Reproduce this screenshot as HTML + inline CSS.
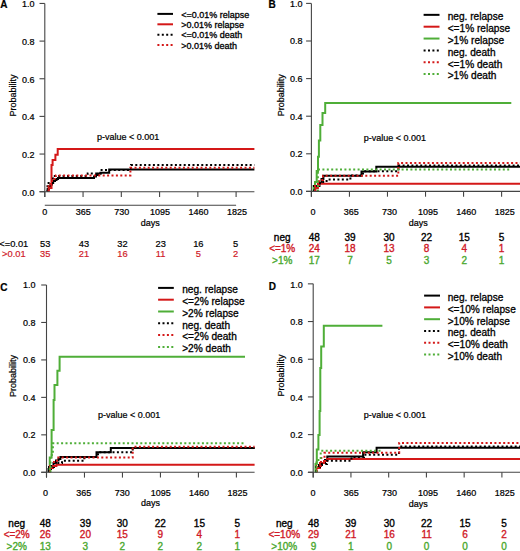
<!DOCTYPE html><html><head><meta charset="utf-8"><style>html,body{margin:0;padding:0;background:#fff;width:520px;height:551px;overflow:hidden}svg{display:block}text{font-family:"Liberation Sans", sans-serif;stroke-width:0.22px;stroke:#000}</style></head><body>
<svg width="520" height="551" viewBox="0 0 520 551">
<rect width="520" height="551" fill="#fff"/>
<g><path d="M47.6,191.7 V189 H49 V186.5 H50.5 V184.5 H52 V183 H53.2 V181 H55 V180 H56.5 V179 H58 V178 H94 V176.5 H96 V175 H98 V173.5 H100.5 V172.8 H109.2 V169.5 H254.4" fill="none" stroke="#000" stroke-width="2" stroke-linejoin="miter"/><path d="M48.8,191.7 V188 H51.5 V165 H52.6 V160 H55.4 V154.8 H57.7 V149 H254.4" fill="none" stroke="#d41818" stroke-width="2" stroke-linejoin="miter"/><path d="M47.5,191.7 V183 H53 V176 H87.7 V173.4 H100.6 V170 H131 V165.1 H254.4" fill="none" stroke="#000" stroke-width="2" stroke-dasharray="2 2.4" stroke-linejoin="miter"/><path d="M48.5,191.7 V184 H52 V179 H55.9 V175.5 H130.4 V167.7 H254.4" fill="none" stroke="#d41818" stroke-width="2" stroke-dasharray="2 2.4" stroke-linejoin="miter"/><path d="M44.8,3.45 V197" stroke="#454545" stroke-width="1.1" fill="none"/><path d="M39.5,191.7 H44.8" stroke="#454545" stroke-width="1.1"/><text x="34.4" y="195.5" font-size="9" text-anchor="end">0.0</text><path d="M39.5,154.05 H44.8" stroke="#454545" stroke-width="1.1"/><text x="34.4" y="157.85" font-size="9" text-anchor="end">0.2</text><path d="M39.5,116.4 H44.8" stroke="#454545" stroke-width="1.1"/><text x="34.4" y="120.2" font-size="9" text-anchor="end">0.4</text><path d="M39.5,78.75 H44.8" stroke="#454545" stroke-width="1.1"/><text x="34.4" y="82.55" font-size="9" text-anchor="end">0.6</text><path d="M39.5,41.1 H44.8" stroke="#454545" stroke-width="1.1"/><text x="34.4" y="44.9" font-size="9" text-anchor="end">0.8</text><path d="M39.5,3.45 H44.8" stroke="#454545" stroke-width="1.1"/><text x="34.4" y="7.25" font-size="9" text-anchor="end">1.0</text><path d="M39.5,191.7 H254.4" stroke="#454545" stroke-width="1.1"/><path d="M44.8,191.7 V197" stroke="#454545" stroke-width="1.1"/><text x="44.8" y="215.3" font-size="9" text-anchor="middle">0</text><path d="M83.06,191.7 V197" stroke="#454545" stroke-width="1.1"/><text x="83.24" y="215.3" font-size="9" text-anchor="middle">365</text><path d="M121.32,191.7 V197" stroke="#454545" stroke-width="1.1"/><text x="121.68" y="215.3" font-size="9" text-anchor="middle">730</text><path d="M159.58,191.7 V197" stroke="#454545" stroke-width="1.1"/><text x="160.12" y="215.3" font-size="9" text-anchor="middle">1095</text><path d="M197.84,191.7 V197" stroke="#454545" stroke-width="1.1"/><text x="198.56" y="215.3" font-size="9" text-anchor="middle">1460</text><path d="M236.1,191.7 V197" stroke="#454545" stroke-width="1.1"/><text x="237" y="215.3" font-size="9" text-anchor="middle">1825</text><path d="M44.8,205.2 H236.1" stroke="#454545" stroke-width="1.1"/><text x="150.3" y="226.3" font-size="9" text-anchor="middle">days</text><text transform="translate(15.7,95.6) rotate(-90)" font-size="9" text-anchor="middle">Probability</text><text x="0.3" y="7.7" font-size="10" font-weight="bold">A</text><text x="96.9" y="140" font-size="9">p-value &lt; 0.001</text><path d="M157.4,13.9 H173" stroke="#000" stroke-width="2"/><text x="181.2" y="17.5" font-size="9" style="stroke-width:0.3px">&lt;=0.01% relapse</text><path d="M157.4,24.3 H173" stroke="#d41818" stroke-width="2"/><text x="181.2" y="27.9" font-size="9" style="stroke-width:0.3px">&gt;0.01% relapse</text><path d="M157.4,34.7 H173" stroke="#000" stroke-width="2" stroke-dasharray="2 2.4"/><text x="181.2" y="38.3" font-size="9" style="stroke-width:0.3px">&lt;=0.01% death</text><path d="M157.4,45.1 H173" stroke="#d41818" stroke-width="2" stroke-dasharray="2 2.4"/><text x="181.2" y="48.7" font-size="9" style="stroke-width:0.3px">&gt;0.01% death</text><text x="13.8" y="246.6" font-size="9.3" style="fill:#000;stroke:#000;stroke-width:0.2px" text-anchor="middle">&lt;=0.01</text><text x="45.2" y="246.6" font-size="9.3" style="fill:#000;stroke:#000;stroke-width:0.2px" text-anchor="middle">53</text><text x="83.9" y="246.6" font-size="9.3" style="fill:#000;stroke:#000;stroke-width:0.2px" text-anchor="middle">43</text><text x="122.4" y="246.6" font-size="9.3" style="fill:#000;stroke:#000;stroke-width:0.2px" text-anchor="middle">32</text><text x="160.7" y="246.6" font-size="9.3" style="fill:#000;stroke:#000;stroke-width:0.2px" text-anchor="middle">23</text><text x="198.3" y="246.6" font-size="9.3" style="fill:#000;stroke:#000;stroke-width:0.2px" text-anchor="middle">16</text><text x="235.5" y="246.6" font-size="9.3" style="fill:#000;stroke:#000;stroke-width:0.2px" text-anchor="middle">5</text><text x="13.8" y="257.3" font-size="9.3" style="fill:#d01a28;stroke:#d01a28;stroke-width:0.2px" text-anchor="middle">&gt;0.01</text><text x="45.2" y="257.3" font-size="9.3" style="fill:#d01a28;stroke:#d01a28;stroke-width:0.2px" text-anchor="middle">35</text><text x="83.9" y="257.3" font-size="9.3" style="fill:#d01a28;stroke:#d01a28;stroke-width:0.2px" text-anchor="middle">21</text><text x="122.4" y="257.3" font-size="9.3" style="fill:#d01a28;stroke:#d01a28;stroke-width:0.2px" text-anchor="middle">16</text><text x="160.7" y="257.3" font-size="9.3" style="fill:#d01a28;stroke:#d01a28;stroke-width:0.2px" text-anchor="middle">11</text><text x="198.3" y="257.3" font-size="9.3" style="fill:#d01a28;stroke:#d01a28;stroke-width:0.2px" text-anchor="middle">5</text><text x="235.5" y="257.3" font-size="9.3" style="fill:#d01a28;stroke:#d01a28;stroke-width:0.2px" text-anchor="middle">2</text></g>
<g><path d="M314,191.4 V188 H317 V186 H319.5 V183 H321.5 V179 H323.4 V175.7 H361.5 V171.5 H376.3 V166.7 H520" fill="none" stroke="#000" stroke-width="2" stroke-linejoin="miter"/><path d="M315.5,191.4 V188 H317.9 V183.7 H520" fill="none" stroke="#d41818" stroke-width="2" stroke-linejoin="miter"/><path d="M313.5,191.4 V186 H315 V182 H316.7 V171 H318 V156.7 H318.9 V140.4 H320.3 V125 H322.5 V113.1 H325.2 V102.9 H511.3" fill="none" stroke="#4fae38" stroke-width="2" stroke-linejoin="miter"/><path d="M314,191.4 V186 H320 V182 H326.6 V179.6 H350.4 V175.6 H363 V171.3 H398.5 V165.6 H520" fill="none" stroke="#000" stroke-width="2" stroke-dasharray="2 2.4" stroke-linejoin="miter"/><path d="M315,191.4 V185 H319 V180 H323 V175.7 H398.3 V163.1 H520" fill="none" stroke="#d41818" stroke-width="2" stroke-dasharray="2 2.4" stroke-linejoin="miter"/><path d="M317.9,191.4 V169.5 H510.7" fill="none" stroke="#4fae38" stroke-width="2" stroke-dasharray="2 2.4" stroke-linejoin="miter"/><path d="M311.4,3.4 V196.7" stroke="#454545" stroke-width="1.1" fill="none"/><path d="M306.1,191.4 H311.4" stroke="#454545" stroke-width="1.1"/><text x="302.6" y="194.85" font-size="9" text-anchor="end">0.0</text><path d="M306.1,153.8 H311.4" stroke="#454545" stroke-width="1.1"/><text x="302.6" y="157.25" font-size="9" text-anchor="end">0.2</text><path d="M306.1,116.2 H311.4" stroke="#454545" stroke-width="1.1"/><text x="302.6" y="119.65" font-size="9" text-anchor="end">0.4</text><path d="M306.1,78.6 H311.4" stroke="#454545" stroke-width="1.1"/><text x="302.6" y="82.05" font-size="9" text-anchor="end">0.6</text><path d="M306.1,41 H311.4" stroke="#454545" stroke-width="1.1"/><text x="302.6" y="44.45" font-size="9" text-anchor="end">0.8</text><path d="M306.1,3.4 H311.4" stroke="#454545" stroke-width="1.1"/><text x="302.6" y="6.85" font-size="9" text-anchor="end">1.0</text><path d="M306.1,191.4 H520" stroke="#454545" stroke-width="1.1"/><path d="M311.4,191.4 V196.7" stroke="#454545" stroke-width="1.1"/><text x="312.95" y="215" font-size="9" text-anchor="middle">0</text><path d="M349.44,191.4 V196.7" stroke="#454545" stroke-width="1.1"/><text x="351.29" y="215" font-size="9" text-anchor="middle">365</text><path d="M387.48,191.4 V196.7" stroke="#454545" stroke-width="1.1"/><text x="389.63" y="215" font-size="9" text-anchor="middle">730</text><path d="M425.52,191.4 V196.7" stroke="#454545" stroke-width="1.1"/><text x="427.97" y="215" font-size="9" text-anchor="middle">1095</text><path d="M463.56,191.4 V196.7" stroke="#454545" stroke-width="1.1"/><text x="466.31" y="215" font-size="9" text-anchor="middle">1460</text><path d="M501.6,191.4 V196.7" stroke="#454545" stroke-width="1.1"/><text x="504.65" y="215" font-size="9" text-anchor="middle">1825</text><text x="418.2" y="226.2" font-size="9" text-anchor="middle">days</text><text transform="translate(283.7,95.3) rotate(-90)" font-size="9" text-anchor="middle">Probability</text><text x="268.6" y="7.7" font-size="10" font-weight="bold">B</text><text x="363.8" y="140.8" font-size="9">p-value &lt; 0.001</text><path d="M423.6,14.85 H439.5" stroke="#000" stroke-width="2"/><text x="447.7" y="20.15" font-size="10.15" style="stroke-width:0.3px">neg. relapse</text><path d="M423.6,26.7 H439.5" stroke="#d41818" stroke-width="2"/><text x="447.7" y="32" font-size="10.15" style="stroke-width:0.3px">&lt;=1% relapse</text><path d="M423.6,38.55 H439.5" stroke="#4fae38" stroke-width="2"/><text x="447.7" y="43.85" font-size="10.15" style="stroke-width:0.3px">&gt;1% relapse</text><path d="M423.6,50.4 H439.5" stroke="#000" stroke-width="2" stroke-dasharray="2 2.4"/><text x="447.7" y="55.7" font-size="10.15" style="stroke-width:0.3px">neg. death</text><path d="M423.6,62.25 H439.5" stroke="#d41818" stroke-width="2" stroke-dasharray="2 2.4"/><text x="447.7" y="67.55" font-size="10.15" style="stroke-width:0.3px">&lt;=1% death</text><path d="M423.6,74.1 H439.5" stroke="#4fae38" stroke-width="2" stroke-dasharray="2 2.4"/><text x="447.7" y="79.4" font-size="10.15" style="stroke-width:0.3px">&gt;1% death</text><text x="282.2" y="240.8" font-size="10" style="fill:#000;stroke:#000;stroke-width:0.35px" text-anchor="middle">neg</text><text x="314.2" y="240.8" font-size="10" style="fill:#000;stroke:#000;stroke-width:0.35px" text-anchor="middle">48</text><text x="350" y="240.8" font-size="10" style="fill:#000;stroke:#000;stroke-width:0.35px" text-anchor="middle">39</text><text x="389" y="240.8" font-size="10" style="fill:#000;stroke:#000;stroke-width:0.35px" text-anchor="middle">30</text><text x="426.6" y="240.8" font-size="10" style="fill:#000;stroke:#000;stroke-width:0.35px" text-anchor="middle">22</text><text x="464.2" y="240.8" font-size="10" style="fill:#000;stroke:#000;stroke-width:0.35px" text-anchor="middle">15</text><text x="501.5" y="240.8" font-size="10" style="fill:#000;stroke:#000;stroke-width:0.35px" text-anchor="middle">5</text><text x="282.2" y="252.4" font-size="10" style="fill:#d01a28;stroke:#d01a28;stroke-width:0.35px" text-anchor="middle">&lt;=1%</text><text x="314.2" y="252.4" font-size="10" style="fill:#d01a28;stroke:#d01a28;stroke-width:0.35px" text-anchor="middle">24</text><text x="350" y="252.4" font-size="10" style="fill:#d01a28;stroke:#d01a28;stroke-width:0.35px" text-anchor="middle">18</text><text x="389" y="252.4" font-size="10" style="fill:#d01a28;stroke:#d01a28;stroke-width:0.35px" text-anchor="middle">13</text><text x="426.6" y="252.4" font-size="10" style="fill:#d01a28;stroke:#d01a28;stroke-width:0.35px" text-anchor="middle">8</text><text x="464.2" y="252.4" font-size="10" style="fill:#d01a28;stroke:#d01a28;stroke-width:0.35px" text-anchor="middle">4</text><text x="501.5" y="252.4" font-size="10" style="fill:#d01a28;stroke:#d01a28;stroke-width:0.35px" text-anchor="middle">1</text><text x="282.2" y="263.6" font-size="10" style="fill:#4aa82e;stroke:#4aa82e;stroke-width:0.35px" text-anchor="middle">&gt;1%</text><text x="314.2" y="263.6" font-size="10" style="fill:#4aa82e;stroke:#4aa82e;stroke-width:0.35px" text-anchor="middle">17</text><text x="350" y="263.6" font-size="10" style="fill:#4aa82e;stroke:#4aa82e;stroke-width:0.35px" text-anchor="middle">7</text><text x="389" y="263.6" font-size="10" style="fill:#4aa82e;stroke:#4aa82e;stroke-width:0.35px" text-anchor="middle">5</text><text x="426.6" y="263.6" font-size="10" style="fill:#4aa82e;stroke:#4aa82e;stroke-width:0.35px" text-anchor="middle">3</text><text x="464.2" y="263.6" font-size="10" style="fill:#4aa82e;stroke:#4aa82e;stroke-width:0.35px" text-anchor="middle">2</text><text x="501.5" y="263.6" font-size="10" style="fill:#4aa82e;stroke:#4aa82e;stroke-width:0.35px" text-anchor="middle">1</text></g>
<g><path d="M48.5,472.3 V469 H51 V466 H53.5 V463 H56 V460.5 H58.5 V459 H60.4 V457 H96.5 V452.2 H110.8 V447.9 H254.6" fill="none" stroke="#000" stroke-width="2" stroke-linejoin="miter"/><path d="M50,472.3 V468 H53 V466 H56.4 V464.8 H254.6" fill="none" stroke="#d41818" stroke-width="2" stroke-linejoin="miter"/><path d="M49.75,472.3 V457.5 H51.6 V430 H53.6 V400 H54.5 V385 H57.4 V370.7 H59.6 V356.8 H245" fill="none" stroke="#4fae38" stroke-width="2" stroke-linejoin="miter"/><path d="M49,472.3 V467 H54 V463 H62 V460.8 H84.3 V457 H98 V452.2 H132.7 V447.9 H254.6" fill="none" stroke="#000" stroke-width="2" stroke-dasharray="2 2.4" stroke-linejoin="miter"/><path d="M50,472.3 V466 H54 V462 H57 V457.6 H132.7 V446.8 H254.6" fill="none" stroke="#d41818" stroke-width="2" stroke-dasharray="2 2.4" stroke-linejoin="miter"/><path d="M50.5,472.3 V455 H52.9 V443.3 H243.5" fill="none" stroke="#4fae38" stroke-width="2" stroke-dasharray="2 2.4" stroke-linejoin="miter"/><path d="M46.5,285 V477.6" stroke="#454545" stroke-width="1.1" fill="none"/><path d="M41.2,472.3 H46.5" stroke="#454545" stroke-width="1.1"/><text x="35.5" y="475.6" font-size="9" text-anchor="end">0.0</text><path d="M41.2,434.84 H46.5" stroke="#454545" stroke-width="1.1"/><text x="35.5" y="438.14" font-size="9" text-anchor="end">0.2</text><path d="M41.2,397.38 H46.5" stroke="#454545" stroke-width="1.1"/><text x="35.5" y="400.68" font-size="9" text-anchor="end">0.4</text><path d="M41.2,359.92 H46.5" stroke="#454545" stroke-width="1.1"/><text x="35.5" y="363.22" font-size="9" text-anchor="end">0.6</text><path d="M41.2,322.46 H46.5" stroke="#454545" stroke-width="1.1"/><text x="35.5" y="325.76" font-size="9" text-anchor="end">0.8</text><path d="M41.2,285 H46.5" stroke="#454545" stroke-width="1.1"/><text x="35.5" y="288.3" font-size="9" text-anchor="end">1.0</text><path d="M41.2,472.3 H254.6" stroke="#454545" stroke-width="1.1"/><path d="M46.5,472.3 V477.6" stroke="#454545" stroke-width="1.1"/><text x="45.4" y="496" font-size="9" text-anchor="middle">0</text><path d="M84.48,472.3 V477.6" stroke="#454545" stroke-width="1.1"/><text x="83.82" y="496" font-size="9" text-anchor="middle">365</text><path d="M122.46,472.3 V477.6" stroke="#454545" stroke-width="1.1"/><text x="122.24" y="496" font-size="9" text-anchor="middle">730</text><path d="M160.44,472.3 V477.6" stroke="#454545" stroke-width="1.1"/><text x="160.66" y="496" font-size="9" text-anchor="middle">1095</text><path d="M198.42,472.3 V477.6" stroke="#454545" stroke-width="1.1"/><text x="199.08" y="496" font-size="9" text-anchor="middle">1460</text><path d="M236.4,472.3 V477.6" stroke="#454545" stroke-width="1.1"/><text x="237.5" y="496" font-size="9" text-anchor="middle">1825</text><text x="150.5" y="506.3" font-size="9" text-anchor="middle">days</text><text transform="translate(16.4,376.1) rotate(-90)" font-size="9" text-anchor="middle">Probability</text><text x="0.3" y="290.6" font-size="10" font-weight="bold">C</text><text x="98" y="418.1" font-size="9">p-value &lt; 0.001</text><path d="M158.1,287.9 H173.8" stroke="#000" stroke-width="2"/><text x="182.2" y="293.2" font-size="10.15" style="stroke-width:0.3px">neg. relapse</text><path d="M158.1,299.7 H173.8" stroke="#d41818" stroke-width="2"/><text x="182.2" y="305" font-size="10.15" style="stroke-width:0.3px">&lt;=2% relapse</text><path d="M158.1,311.5 H173.8" stroke="#4fae38" stroke-width="2"/><text x="182.2" y="316.8" font-size="10.15" style="stroke-width:0.3px">&gt;2% relapse</text><path d="M158.1,323.3 H173.8" stroke="#000" stroke-width="2" stroke-dasharray="2 2.4"/><text x="182.2" y="328.6" font-size="10.15" style="stroke-width:0.3px">neg. death</text><path d="M158.1,335.1 H173.8" stroke="#d41818" stroke-width="2" stroke-dasharray="2 2.4"/><text x="182.2" y="340.4" font-size="10.15" style="stroke-width:0.3px">&lt;=2% death</text><path d="M158.1,346.9 H173.8" stroke="#4fae38" stroke-width="2" stroke-dasharray="2 2.4"/><text x="182.2" y="352.2" font-size="10.15" style="stroke-width:0.3px">&gt;2% death</text><text x="16.7" y="526.9" font-size="10" style="fill:#000;stroke:#000;stroke-width:0.35px" text-anchor="middle">neg</text><text x="45.2" y="526.9" font-size="10" style="fill:#000;stroke:#000;stroke-width:0.35px" text-anchor="middle">48</text><text x="85.4" y="526.9" font-size="10" style="fill:#000;stroke:#000;stroke-width:0.35px" text-anchor="middle">39</text><text x="122.3" y="526.9" font-size="10" style="fill:#000;stroke:#000;stroke-width:0.35px" text-anchor="middle">30</text><text x="160.2" y="526.9" font-size="10" style="fill:#000;stroke:#000;stroke-width:0.35px" text-anchor="middle">22</text><text x="199.4" y="526.9" font-size="10" style="fill:#000;stroke:#000;stroke-width:0.35px" text-anchor="middle">15</text><text x="237.25" y="526.9" font-size="10" style="fill:#000;stroke:#000;stroke-width:0.35px" text-anchor="middle">5</text><text x="16.7" y="538.4" font-size="10" style="fill:#d01a28;stroke:#d01a28;stroke-width:0.35px" text-anchor="middle">&lt;=2%</text><text x="45.2" y="538.4" font-size="10" style="fill:#d01a28;stroke:#d01a28;stroke-width:0.35px" text-anchor="middle">26</text><text x="85.4" y="538.4" font-size="10" style="fill:#d01a28;stroke:#d01a28;stroke-width:0.35px" text-anchor="middle">20</text><text x="122.3" y="538.4" font-size="10" style="fill:#d01a28;stroke:#d01a28;stroke-width:0.35px" text-anchor="middle">15</text><text x="160.2" y="538.4" font-size="10" style="fill:#d01a28;stroke:#d01a28;stroke-width:0.35px" text-anchor="middle">9</text><text x="199.4" y="538.4" font-size="10" style="fill:#d01a28;stroke:#d01a28;stroke-width:0.35px" text-anchor="middle">4</text><text x="237.25" y="538.4" font-size="10" style="fill:#d01a28;stroke:#d01a28;stroke-width:0.35px" text-anchor="middle">1</text><text x="16.7" y="550" font-size="10" style="fill:#4aa82e;stroke:#4aa82e;stroke-width:0.35px" text-anchor="middle">&gt;2%</text><text x="45.2" y="550" font-size="10" style="fill:#4aa82e;stroke:#4aa82e;stroke-width:0.35px" text-anchor="middle">13</text><text x="85.4" y="550" font-size="10" style="fill:#4aa82e;stroke:#4aa82e;stroke-width:0.35px" text-anchor="middle">3</text><text x="122.3" y="550" font-size="10" style="fill:#4aa82e;stroke:#4aa82e;stroke-width:0.35px" text-anchor="middle">2</text><text x="160.2" y="550" font-size="10" style="fill:#4aa82e;stroke:#4aa82e;stroke-width:0.35px" text-anchor="middle">2</text><text x="199.4" y="550" font-size="10" style="fill:#4aa82e;stroke:#4aa82e;stroke-width:0.35px" text-anchor="middle">2</text><text x="237.25" y="550" font-size="10" style="fill:#4aa82e;stroke:#4aa82e;stroke-width:0.35px" text-anchor="middle">1</text></g>
<g><path d="M316,472.3 V468 H319 V465 H322 V463 H325 V460 H327.3 V456.5 H363.1 V452.2 H376.6 V447.8 H520" fill="none" stroke="#000" stroke-width="2" stroke-linejoin="miter"/><path d="M316.5,472.3 V468 H320 V463 H324 V461 H327 V458.9 H520" fill="none" stroke="#d41818" stroke-width="2" stroke-linejoin="miter"/><path d="M315.5,472.3 V464 H316.8 V449.6 H318.4 V435 H319.6 V411 H320.3 V368 H321.2 V346.6 H323.8 V325.8 H382.4" fill="none" stroke="#4fae38" stroke-width="2" stroke-linejoin="miter"/><path d="M316,472.3 V467 H320 V464 H327 V460.8 H351.5 V457 H364 V454.7 H399 V446.6 H520" fill="none" stroke="#000" stroke-width="2" stroke-dasharray="2 2.4" stroke-linejoin="miter"/><path d="M317,472.3 V466 H321 V458 H324.5 V452.7 H399.2 V442.9 H520" fill="none" stroke="#d41818" stroke-width="2" stroke-dasharray="2 2.4" stroke-linejoin="miter"/><path d="M316.5,472.3 V460 H320.7 V450.7 H381.9" fill="none" stroke="#4fae38" stroke-width="2" stroke-dasharray="2 2.4" stroke-linejoin="miter"/><path d="M313.2,283.85 V477.6" stroke="#454545" stroke-width="1.1" fill="none"/><path d="M307.9,472.3 H313.2" stroke="#454545" stroke-width="1.1"/><text x="302.7" y="476" font-size="9" text-anchor="end">0.0</text><path d="M307.9,434.61 H313.2" stroke="#454545" stroke-width="1.1"/><text x="302.7" y="438.31" font-size="9" text-anchor="end">0.2</text><path d="M307.9,396.92 H313.2" stroke="#454545" stroke-width="1.1"/><text x="302.7" y="400.62" font-size="9" text-anchor="end">0.4</text><path d="M307.9,359.23 H313.2" stroke="#454545" stroke-width="1.1"/><text x="302.7" y="362.93" font-size="9" text-anchor="end">0.6</text><path d="M307.9,321.54 H313.2" stroke="#454545" stroke-width="1.1"/><text x="302.7" y="325.24" font-size="9" text-anchor="end">0.8</text><path d="M307.9,283.85 H313.2" stroke="#454545" stroke-width="1.1"/><text x="302.7" y="287.55" font-size="9" text-anchor="end">1.0</text><path d="M307.9,472.3 H520" stroke="#454545" stroke-width="1.1"/><path d="M313.2,472.3 V477.6" stroke="#454545" stroke-width="1.1"/><text x="312.95" y="496" font-size="9" text-anchor="middle">0</text><path d="M350.94,472.3 V477.6" stroke="#454545" stroke-width="1.1"/><text x="351.29" y="496" font-size="9" text-anchor="middle">365</text><path d="M388.68,472.3 V477.6" stroke="#454545" stroke-width="1.1"/><text x="389.63" y="496" font-size="9" text-anchor="middle">730</text><path d="M426.42,472.3 V477.6" stroke="#454545" stroke-width="1.1"/><text x="427.97" y="496" font-size="9" text-anchor="middle">1095</text><path d="M464.16,472.3 V477.6" stroke="#454545" stroke-width="1.1"/><text x="466.31" y="496" font-size="9" text-anchor="middle">1460</text><path d="M501.9,472.3 V477.6" stroke="#454545" stroke-width="1.1"/><text x="504.65" y="496" font-size="9" text-anchor="middle">1825</text><text x="418.2" y="506.5" font-size="9" text-anchor="middle">days</text><text transform="translate(283.8,375.4) rotate(-90)" font-size="9" text-anchor="middle">Probability</text><text x="268.8" y="290.2" font-size="10" font-weight="bold">D</text><text x="363.8" y="417.8" font-size="9">p-value &lt; 0.001</text><path d="M424.1,295.6 H440" stroke="#000" stroke-width="2"/><text x="447.7" y="300.9" font-size="10.15" style="stroke-width:0.3px">neg. relapse</text><path d="M424.1,307.4 H440" stroke="#d41818" stroke-width="2"/><text x="447.7" y="312.7" font-size="10.15" style="stroke-width:0.3px">&lt;=10% relapse</text><path d="M424.1,319.2 H440" stroke="#4fae38" stroke-width="2"/><text x="447.7" y="324.5" font-size="10.15" style="stroke-width:0.3px">&gt;10% relapse</text><path d="M424.1,331 H440" stroke="#000" stroke-width="2" stroke-dasharray="2 2.4"/><text x="447.7" y="336.3" font-size="10.15" style="stroke-width:0.3px">neg. death</text><path d="M424.1,342.8 H440" stroke="#d41818" stroke-width="2" stroke-dasharray="2 2.4"/><text x="447.7" y="348.1" font-size="10.15" style="stroke-width:0.3px">&lt;=10% death</text><path d="M424.1,354.6 H440" stroke="#4fae38" stroke-width="2" stroke-dasharray="2 2.4"/><text x="447.7" y="359.9" font-size="10.15" style="stroke-width:0.3px">&gt;10% death</text><text x="284.3" y="526.8" font-size="10" style="fill:#000;stroke:#000;stroke-width:0.35px" text-anchor="middle">neg</text><text x="313.5" y="526.8" font-size="10" style="fill:#000;stroke:#000;stroke-width:0.35px" text-anchor="middle">48</text><text x="350.8" y="526.8" font-size="10" style="fill:#000;stroke:#000;stroke-width:0.35px" text-anchor="middle">39</text><text x="389.3" y="526.8" font-size="10" style="fill:#000;stroke:#000;stroke-width:0.35px" text-anchor="middle">30</text><text x="426.6" y="526.8" font-size="10" style="fill:#000;stroke:#000;stroke-width:0.35px" text-anchor="middle">22</text><text x="465" y="526.8" font-size="10" style="fill:#000;stroke:#000;stroke-width:0.35px" text-anchor="middle">15</text><text x="504" y="526.8" font-size="10" style="fill:#000;stroke:#000;stroke-width:0.35px" text-anchor="middle">5</text><text x="284.3" y="538.4" font-size="10" style="fill:#d01a28;stroke:#d01a28;stroke-width:0.35px" text-anchor="middle">&lt;=10%</text><text x="313.5" y="538.4" font-size="10" style="fill:#d01a28;stroke:#d01a28;stroke-width:0.35px" text-anchor="middle">29</text><text x="350.8" y="538.4" font-size="10" style="fill:#d01a28;stroke:#d01a28;stroke-width:0.35px" text-anchor="middle">21</text><text x="389.3" y="538.4" font-size="10" style="fill:#d01a28;stroke:#d01a28;stroke-width:0.35px" text-anchor="middle">16</text><text x="426.6" y="538.4" font-size="10" style="fill:#d01a28;stroke:#d01a28;stroke-width:0.35px" text-anchor="middle">11</text><text x="465" y="538.4" font-size="10" style="fill:#d01a28;stroke:#d01a28;stroke-width:0.35px" text-anchor="middle">6</text><text x="504" y="538.4" font-size="10" style="fill:#d01a28;stroke:#d01a28;stroke-width:0.35px" text-anchor="middle">2</text><text x="284.3" y="550" font-size="10" style="fill:#4aa82e;stroke:#4aa82e;stroke-width:0.35px" text-anchor="middle">&gt;10%</text><text x="313.5" y="550" font-size="10" style="fill:#4aa82e;stroke:#4aa82e;stroke-width:0.35px" text-anchor="middle">9</text><text x="350.8" y="550" font-size="10" style="fill:#4aa82e;stroke:#4aa82e;stroke-width:0.35px" text-anchor="middle">1</text><text x="389.3" y="550" font-size="10" style="fill:#4aa82e;stroke:#4aa82e;stroke-width:0.35px" text-anchor="middle">0</text><text x="426.6" y="550" font-size="10" style="fill:#4aa82e;stroke:#4aa82e;stroke-width:0.35px" text-anchor="middle">0</text><text x="465" y="550" font-size="10" style="fill:#4aa82e;stroke:#4aa82e;stroke-width:0.35px" text-anchor="middle">0</text><text x="504" y="550" font-size="10" style="fill:#4aa82e;stroke:#4aa82e;stroke-width:0.35px" text-anchor="middle">0</text></g>
</svg></body></html>
